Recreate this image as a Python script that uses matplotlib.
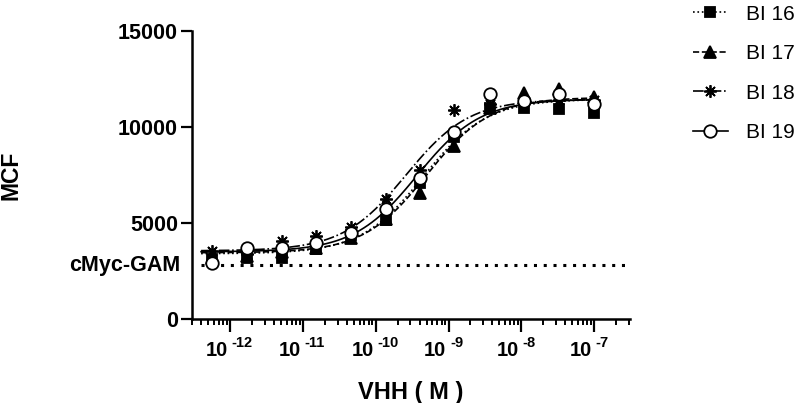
import numpy as np
import matplotlib.pyplot as plt
from matplotlib.lines import Line2D
from matplotlib.ticker import LogLocator, NullFormatter

plt.rcParams['font.family'] = ['Liberation Sans', 'DejaVu Sans']

# VHH concentration (M), 3-fold serial dilution
conc = [5.6e-13, 1.7e-12, 5.1e-12, 1.5e-11, 4.6e-11, 1.4e-10,
        4.1e-10, 1.2e-9, 3.7e-9, 1.1e-8, 3.3e-8, 1e-7]

bi16 = [3110, 3160, 3160, 3630, 4380, 5160, 7070, 9500, 10970, 11000, 10920, 10750]
bi17 = [3200, 3300, 3500, 3700, 4200, 5200, 6580, 9010, 11000, 11750, 12000, 11580]
bi18 = [3540, 3400, 4050, 4320, 4810, 6230, 7760, 10880, 11200, 11300, 11400, 11400]
bi19 = [2930, 3680, 3700, 3980, 4460, 5710, 7330, 9720, 11700, 11370, 11700, 11180]

# 4PL fit parameters: bottom, top, EC50 (M), hill
fit16 = [3400, 11450, 4.5e-10, 1.0]
fit17 = [3450, 11550, 5.0e-10, 1.0]
fit18 = [3550, 11450, 2.6e-10, 1.0]
fit19 = [3500, 11450, 3.7e-10, 1.0]

gam_level = 2800  # cMyc-GAM control

labels = ['BI 16', 'BI 17', 'BI 18', 'BI 19']
xtick_vals = [1e-12, 1e-11, 1e-10, 1e-9, 1e-8, 1e-7]
xtick_exps = ['-12', '-11', '-10', '-9', '-8', '-7']

fig = plt.figure(figsize=(8, 4.03), dpi=100)
ax = fig.add_axes([0.24, 0.2084, 0.5475, 0.7146])

series = [
    (bi16, fit16, ':', 's', 'black', 7, 3),
    (bi17, fit17, '--', '^', 'black', 8, 2),
    (bi18, fit18, '-.', (8, 2, 0), 'black', 9, 2.5),
    (bi19, fit19, '-', 'o', 'white', 9, 4),
]

xs = np.logspace(np.log10(4e-13), np.log10(1e-7), 300)
handles = []
for (vals, fit, ls, mk, mfc, ms, z), lab in zip(series, labels):
    bottom, top, ec50, hill = fit
    ys = bottom + (top - bottom) / (1 + (ec50 / xs) ** hill)
    ax.plot(xs, ys, color='black', linestyle=ls, linewidth=1.2, zorder=1)
    ax.plot(conc, vals, linestyle='none', marker=mk, markersize=ms,
            markerfacecolor=mfc, markeredgecolor='black', markeredgewidth=1.3, zorder=z)
    handles.append(Line2D([], [], color='black', linestyle=ls, linewidth=1.2, marker=mk,
                          markersize=ms, markerfacecolor=mfc, markeredgecolor='black',
                          markeredgewidth=1.3))

ax.plot([4e-13, 3.1e-7], [gam_level, gam_level], color='black', linestyle=(0, (1, 2.2)),
        linewidth=2.2, zorder=1)

ax.set_xscale('log')
ax.set_xlim(3e-13, 3.1e-7)
ax.set_ylim(0, 15000)
ax.set_yticks([0, 5000, 10000, 15000])
ax.set_yticklabels(['0', '5000', '10000', '15000'], fontsize=15.5, fontweight='bold')
ax.set_xticks(xtick_vals)
ax.set_xticklabels([''] * len(xtick_vals))
ax.xaxis.set_minor_locator(LogLocator(base=10, subs=np.arange(2, 10), numticks=20))
ax.xaxis.set_minor_formatter(NullFormatter())

# power-of-ten labels: base and raised exponent
for v, e in zip(xtick_vals, xtick_exps):
    ax.annotate('10', xy=(v, 0), xycoords=('data', 'axes fraction'),
                xytext=(-1.5, -26.6), textcoords='offset points',
                ha='right', va='baseline', fontsize=14.5, fontweight='bold')
    ax.annotate(e, xy=(v, 0), xycoords=('data', 'axes fraction'),
                xytext=(1.0, -19.8), textcoords='offset points',
                ha='left', va='baseline', fontsize=10.5, fontweight='bold')

for s in ['top', 'right']:
    ax.spines[s].set_visible(False)
for s in ['left', 'bottom']:
    ax.spines[s].set_linewidth(1.8)
ax.tick_params(axis='y', direction='out', length=8, width=1.6, pad=2)
ax.tick_params(axis='x', which='major', direction='out', length=9, width=1.6, pad=2)
ax.tick_params(axis='x', which='minor', direction='out', length=4.5, width=1.4)

ax.set_xlabel('VHH ( M )', fontsize=17, fontweight='bold')
ax.xaxis.set_label_coords(0.5, -0.215)
ax.set_ylabel('MCF', fontsize=16.5, fontweight='bold')
ax.yaxis.set_label_coords(-0.388, 0.5)

ax.text(-0.027, gam_level, 'cMyc-GAM', transform=ax.get_yaxis_transform(),
        ha='right', va='center', fontsize=15.5, fontweight='bold')

fig.legend(handles, labels, loc='upper left', bbox_to_anchor=(0.864, 0.994),
           bbox_transform=fig.transFigure, frameon=False, fontsize=15,
           handlelength=1.65, handletextpad=0.87, labelspacing=0.99,
           borderpad=0.1, borderaxespad=0)

fig.savefig('out.png', dpi=100)
